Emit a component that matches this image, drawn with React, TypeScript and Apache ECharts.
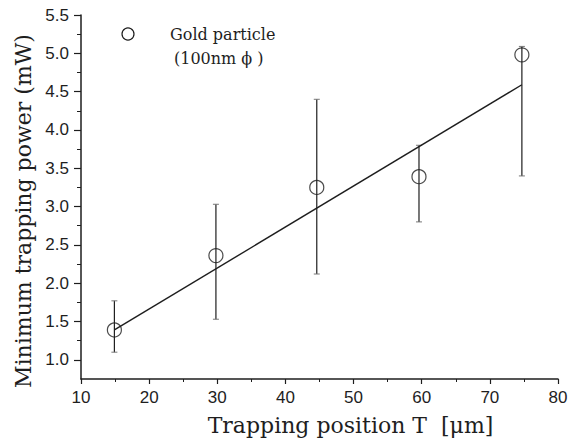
import React, { useEffect, useRef } from "react";
import * as echarts from "echarts";

const positions = [14.9, 29.8, 44.6, 59.6, 74.7];
const powers = [1.39, 2.36, 3.25, 3.39, 4.98];
const errLow = [1.1, 1.53, 2.12, 2.8, 3.4];
const errHigh = [1.77, 3.03, 4.4, 3.8, 5.09];
const fitX = [14.9, 74.7];
const fitY = [1.39, 4.59];
const yMajorTicks = [1.0, 1.5, 2.0, 2.5, 3.0, 3.5, 4.0, 4.5, 5.0, 5.5];
const yMinorTicks = [1.25, 1.75, 2.25, 2.75, 3.25, 3.75, 4.25, 4.75, 5.25];

const INK = "#1e1e1e";
const SERIF = "'DejaVu Serif', 'Liberation Serif', serif";
const SANS = "'Liberation Sans', Arial, sans-serif";

export default function App() {
  const ref = useRef<HTMLDivElement>(null);
  useEffect(() => {
    if (!ref.current) return;
    const chart = echarts.init(ref.current, undefined, { renderer: "svg" });
    const points = positions.map((x, i) => [x, powers[i]]);
    const errData = positions.map((x, i) => [x, errLow[i], errHigh[i]]);
    const fitData = fitX.map((x, i) => [x, fitY[i]]);
    chart.setOption({
      animation: false,
      backgroundColor: "#ffffff",
      grid: { left: 81, right: 13, top: 15, bottom: 61 },
      xAxis: {
        type: "value",
        min: 10,
        max: 80,
        interval: 10,
        name: "Trapping position T  [μm]",
        nameLocation: "middle",
        nameGap: 35,
        nameTextStyle: { fontFamily: SERIF, fontSize: 22, color: INK, fontWeight: 300, padding: [0, 0, 0, 62] },
        axisLine: { show: true, lineStyle: { color: INK, width: 1.5 } },
        axisTick: { show: true, inside: false, length: 5, lineStyle: { color: INK, width: 1.2 } },
        minorTick: { show: true, splitNumber: 2, length: 3, lineStyle: { color: INK, width: 1 } },
        axisLabel: { fontFamily: SANS, fontSize: 17, color: INK, margin: 10 },
        splitLine: { show: false },
        minorSplitLine: { show: false },
      },
      yAxis: [
        {
          type: "value",
          min: 0.75,
          max: 5.5,
          position: "left",
          name: "Minimum trapping power (mW)",
          nameLocation: "middle",
          nameGap: 39,
          nameTextStyle: { fontFamily: SERIF, fontSize: 22, color: INK, fontWeight: 300, padding: [0, 28, 0, 0] },
          axisLine: { show: true, lineStyle: { color: INK, width: 1.5 } },
          axisTick: { show: true, inside: false, length: 7, customValues: yMajorTicks, lineStyle: { color: INK, width: 1.2 } },
          axisLabel: {
            fontFamily: SANS,
            fontSize: 17,
            color: INK,
            margin: 12,
            customValues: yMajorTicks,
            formatter: (v: number) => v.toFixed(1),
          },
          splitLine: { show: false },
        },
        {
          type: "value",
          min: 0.75,
          max: 5.5,
          position: "left",
          axisLine: { show: false },
          axisTick: { show: true, inside: false, length: 4, customValues: yMinorTicks, lineStyle: { color: INK, width: 1 } },
          axisLabel: { show: false },
          splitLine: { show: false },
        },
      ],
      graphic: [
        {
          type: "circle",
          shape: { cx: 128, cy: 34, r: 6 },
          style: { fill: "transparent", stroke: INK, lineWidth: 1.2 },
        },
        {
          type: "text",
          x: 170,
          y: 34,
          style: { text: "Gold particle", font: `16px ${SERIF}`, fill: INK, verticalAlign: "middle" },
        },
        {
          type: "text",
          x: 174,
          y: 58,
          style: { text: "(100nm ϕ )", font: `16px ${SERIF}`, fill: INK, verticalAlign: "middle" },
        },
      ],
      series: [
        {
          type: "custom",
          name: "error",
          renderItem: (params: any, api: any) => {
            const x = api.value(0);
            const lo = api.coord([x, api.value(1)]);
            const hi = api.coord([x, api.value(2)]);
            const cap = 3;
            return {
              type: "group",
              children: [
                { type: "line", shape: { x1: lo[0], y1: lo[1], x2: hi[0], y2: hi[1] }, style: { stroke: INK, lineWidth: 1.2 } },
                { type: "line", shape: { x1: lo[0] - cap, y1: lo[1], x2: lo[0] + cap, y2: lo[1] }, style: { stroke: "#777", lineWidth: 1 } },
                { type: "line", shape: { x1: hi[0] - cap, y1: hi[1], x2: hi[0] + cap, y2: hi[1] }, style: { stroke: "#777", lineWidth: 1 } },
              ],
            };
          },
          encode: { x: 0, y: [1, 2] },
          data: errData,
          z: 2,
        },
        {
          type: "line",
          name: "fit",
          data: fitData,
          symbol: "none",
          lineStyle: { color: INK, width: 1.4 },
          z: 3,
        },
        {
          type: "scatter",
          name: "Gold particle (100nmφ)",
          data: points,
          symbol: "circle",
          symbolSize: 14,
          itemStyle: { color: "transparent", borderColor: INK, borderWidth: 1.2 },
          z: 4,
        },
      ],
    });
    return () => chart.dispose();
  }, []);
  return <div ref={ref} style={{ position: "absolute", left: 0, top: 0, width: 571, height: 441 }} />;
}
